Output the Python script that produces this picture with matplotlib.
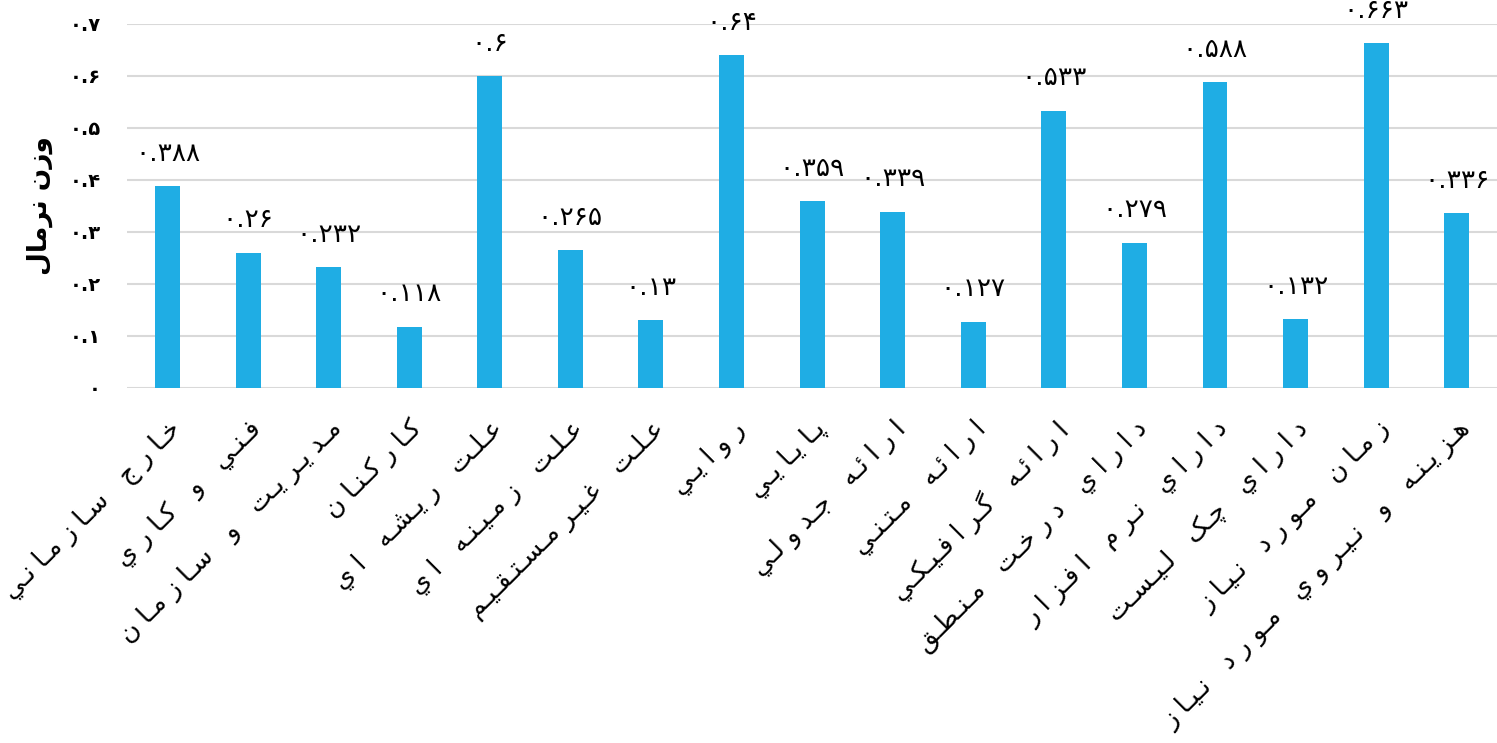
import numpy as np
import matplotlib
matplotlib.use("Agg")
import matplotlib.pyplot as plt
from matplotlib.ticker import FuncFormatter

categories = [
    "خارج سازماني", "فني و کاري", "مديريت و سازمان", "کارکنان",
    "علت ريشه اي", "علت زمينه اي", "علت غيرمستقيم", "روايي", "پايايي",
    "ارائه جدولي", "ارائه متني", "ارائه گرافيکي", "داراي درخت منطق",
    "داراي نرم افزار", "داراي چک ليست", "زمان مورد نياز",
    "هزينه و نيروي مورد نياز",
]
weights = [0.388, 0.26, 0.232, 0.118, 0.6, 0.265, 0.13, 0.64, 0.359,
           0.339, 0.127, 0.533, 0.279, 0.588, 0.132, 0.663, 0.336]
y_label = "وزن نرمال"

# presentation forms: (first code point, number of forms)
# order of forms is isolated, final, initial, medial
FORMS = {
    "ا": (0xFE8D, 2), "آ": (0xFE81, 2), "ئ": (0xFE89, 4), "ب": (0xFE8F, 4),
    "ة": (0xFE93, 2), "ت": (0xFE95, 4), "ث": (0xFE99, 4), "ج": (0xFE9D, 4),
    "ح": (0xFEA1, 4), "خ": (0xFEA5, 4), "د": (0xFEA9, 2), "ذ": (0xFEAB, 2),
    "ر": (0xFEAD, 2), "ز": (0xFEAF, 2), "س": (0xFEB1, 4), "ش": (0xFEB5, 4),
    "ص": (0xFEB9, 4), "ض": (0xFEBD, 4), "ط": (0xFEC1, 4), "ظ": (0xFEC5, 4),
    "ع": (0xFEC9, 4), "غ": (0xFECD, 4), "ف": (0xFED1, 4), "ق": (0xFED5, 4),
    "ك": (0xFED9, 4), "ل": (0xFEDD, 4), "م": (0xFEE1, 4), "ن": (0xFEE5, 4),
    "ه": (0xFEE9, 4), "و": (0xFEED, 2), "ى": (0xFEEF, 2), "ي": (0xFEF1, 4),
    "پ": (0xFB56, 4), "چ": (0xFB7A, 4), "ژ": (0xFB8A, 2), "ک": (0xFB8E, 4),
    "گ": (0xFB92, 4), "ی": (0xFBFC, 4),
}
TATWEEL = "\u0640"


def shape(text, spread=False):
    units = []
    for i, ch in enumerate(text):
        if ch not in FORMS:
            units.append("   " if (spread and ch == " ") else ch)
            continue
        base, n = FORMS[ch]
        prev = text[i - 1] if i > 0 else ""
        nxt = text[i + 1] if i + 1 < len(text) else ""
        join_prev = prev in FORMS and FORMS[prev][1] == 4
        join_next = n == 4 and nxt in FORMS
        if join_prev and join_next:
            k = 3
        elif join_prev:
            k = 1
        elif join_next:
            k = 2
        else:
            k = 0
        units.append(chr(base + k))
        # loose letter spacing inside words
        if spread and nxt in FORMS:
            units.append(TATWEEL if join_next else " ")
    # right-to-left: reverse for left-to-right drawing
    return "".join(units)[::-1]


FA_DIGITS = str.maketrans("0123456789", "۰۱۲۳۴۵۶۷۸۹")


def fa_num(v):
    return f"{v:g}".translate(FA_DIGITS)


plt.rcParams["font.family"] = ["DejaVu Sans"]

fig = plt.figure(figsize=(14.97, 7.43), dpi=100)
ax = fig.add_axes([0.085, 0.478, 0.915, 0.4897])

x = np.arange(len(categories))
ax.bar(x, weights, width=0.31, color="#1FADE4", zorder=3)

for xi, v in zip(x, weights):
    ax.annotate(fa_num(v), (xi, v), xytext=(0, 14), textcoords="offset points",
                ha="center", va="bottom", fontsize=19, color="#000000")

ax.set_xlim(-0.5, len(categories) - 0.5)
ax.set_ylim(0, 0.7)
ax.set_yticks(np.arange(0, 0.71, 0.1))
ax.yaxis.set_major_formatter(FuncFormatter(lambda v, p: fa_num(round(v, 1))))
ax.grid(axis="y", color="#D9D9D9", linewidth=1.5, zorder=0)
for s in ax.spines.values():
    s.set_visible(False)
ax.tick_params(axis="both", length=0)
ax.tick_params(axis="y", pad=19, labelsize=14)
for t in ax.get_yticklabels():
    t.set_fontweight("bold")

ax.set_xticks(x)
ax.set_xticklabels([shape(c, spread=True) for c in categories], rotation=45,
                   ha="right", va="top", rotation_mode="anchor", fontsize=18.5)
ax.tick_params(axis="x", pad=20)

ax.set_ylabel(shape(y_label), fontsize=19, fontweight="bold", labelpad=12)

fig.savefig("out.png", dpi=100, facecolor="white")
